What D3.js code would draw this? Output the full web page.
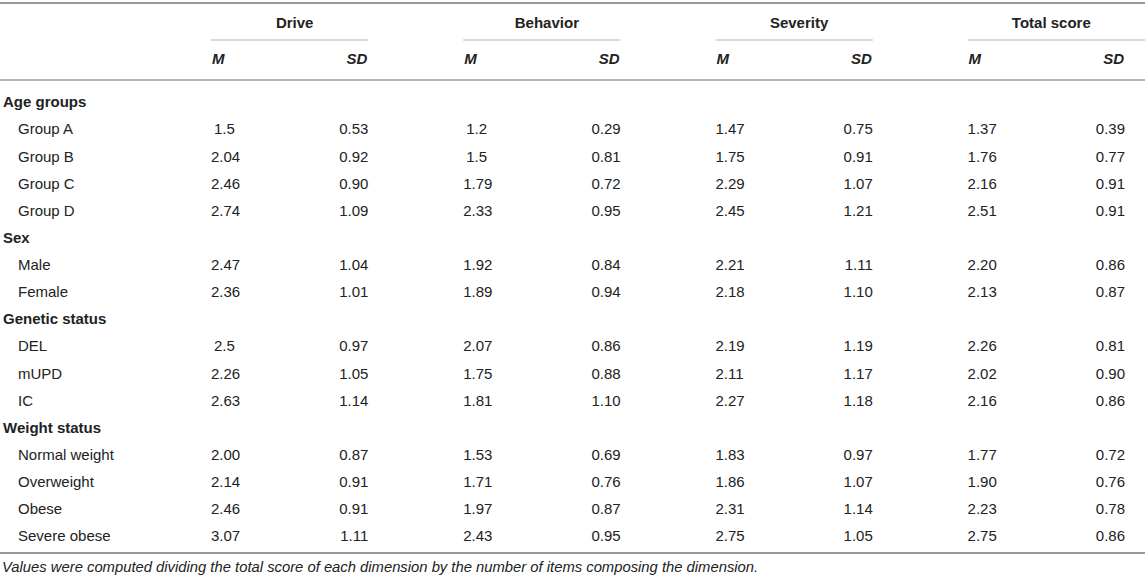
<!DOCTYPE html>
<html lang="en">
<head>
    <meta charset="UTF-8">
    <title>Scores by group</title>
    <script src="https://d3js.org/d3.v7.min.js"></script>
    <style>
        body { margin: 0; background: #fff; }
        svg { display: block; }
        text { font-family: "Liberation Sans", Arial, sans-serif; fill: #222; }
        .cell { font-size: 15px; }
        .group { font-size: 15px; font-weight: bold; }
        .dim { font-size: 15px; font-weight: bold; }
        .sub { font-size: 15px; font-weight: bold; font-style: italic; }
        .note { font-size: 14.8px; font-style: italic; }
    </style>
</head>
<body>
<svg></svg>
<script>
    const width = 1145;
    const height = 575;

    const dimensions = ["Drive", "Behavior", "Severity", "Total score"];
    const stats = ["M", "SD"];

    const groups = ["Age groups", "Sex", "Genetic status", "Weight status"];
    const rowLabels = [
        ["Group A", "Group B", "Group C", "Group D"],
        ["Male", "Female"],
        ["DEL", "mUPD", "IC"],
        ["Normal weight", "Overweight", "Obese", "Severe obese"]
    ];

    // each row: Drive M, Drive SD, Behavior M, Behavior SD, Severity M, Severity SD, Total M, Total SD
    const ageValues = [
        ["1.5", "0.53", "1.2", "0.29", "1.47", "0.75", "1.37", "0.39"],
        ["2.04", "0.92", "1.5", "0.81", "1.75", "0.91", "1.76", "0.77"],
        ["2.46", "0.90", "1.79", "0.72", "2.29", "1.07", "2.16", "0.91"],
        ["2.74", "1.09", "2.33", "0.95", "2.45", "1.21", "2.51", "0.91"]
    ];
    const sexValues = [
        ["2.47", "1.04", "1.92", "0.84", "2.21", "1.11", "2.20", "0.86"],
        ["2.36", "1.01", "1.89", "0.94", "2.18", "1.10", "2.13", "0.87"]
    ];
    const geneticValues = [
        ["2.5", "0.97", "2.07", "0.86", "2.19", "1.19", "2.26", "0.81"],
        ["2.26", "1.05", "1.75", "0.88", "2.11", "1.17", "2.02", "0.90"],
        ["2.63", "1.14", "1.81", "1.10", "2.27", "1.18", "2.16", "0.86"]
    ];
    const weightValues = [
        ["2.00", "0.87", "1.53", "0.69", "1.83", "0.97", "1.77", "0.72"],
        ["2.14", "0.91", "1.71", "0.76", "1.86", "1.07", "1.90", "0.76"],
        ["2.46", "0.91", "1.97", "0.87", "2.31", "1.14", "2.23", "0.78"],
        ["3.07", "1.11", "2.43", "0.95", "2.75", "1.05", "2.75", "0.86"]
    ];
    const groupValues = [ageValues, sexValues, geneticValues, weightValues];

    const note = "Values were computed dividing the total score of each dimension by the number of items composing the dimension.";

    // flatten body rows
    const rows = [];
    groups.forEach((g, gi) => {
        rows.push({ label: g, heading: true, values: [] });
        rowLabels[gi].forEach((lab, ri) => {
            rows.push({ label: lab, heading: false, values: groupValues[gi][ri] });
        });
    });

    const svg = d3.select("svg")
        .attr("width", width)
        .attr("height", height);

    const x = d3.scaleBand()
        .domain(dimensions)
        .range([211, 1125])
        .paddingInner(0.376)
        .paddingOuter(0);

    const y = d3.scalePoint()
        .domain(d3.range(rows.length))
        .range([102, 536]);

    const rule = (y0, x0, x1, color, w) => svg.append("line")
        .attr("x1", x0).attr("x2", x1)
        .attr("y1", y0).attr("y2", y0)
        .attr("stroke", color)
        .attr("stroke-width", w);

    rule(3, 0, width, "#9a9a9a", 2);
    rule(80, 0, width, "#b4b4b4", 2);
    rule(553, 0, width, "#9a9a9a", 2);

    // dimension headers
    const dimG = svg.selectAll(".dimHead")
        .data(dimensions)
        .enter()
        .append("g")
        .attr("class", "dimHead");

    dimG.append("text")
        .attr("class", "dim")
        .attr("x", d => x(d) + x.bandwidth() / 2 + 5)
        .attr("y", 23)
        .attr("dy", "0.35em")
        .attr("text-anchor", "middle")
        .text(d => d);

    dimG.append("line")
        .attr("x1", d => x(d))
        .attr("x2", (d, i) => i === dimensions.length - 1 ? width : x(d) + x.bandwidth())
        .attr("y1", 40).attr("y2", 40)
        .attr("stroke", "#b4b4b4")
        .attr("stroke-width", 1.2);

    dimG.selectAll(".sub")
        .data(d => stats.map(s => ({ dim: d, stat: s })))
        .enter()
        .append("text")
        .attr("class", "sub")
        .attr("x", d => d.stat === "M" ? x(d.dim) + 1 : x(d.dim) + x.bandwidth() - 1)
        .attr("y", 59)
        .attr("dy", "0.35em")
        .attr("text-anchor", d => d.stat === "M" ? "start" : "end")
        .text(d => d.stat);

    // body rows
    const rowG = svg.selectAll(".row")
        .data(rows)
        .enter()
        .append("g")
        .attr("class", "row")
        .attr("transform", (d, i) => `translate(0, ${y(i)})`);

    rowG.append("text")
        .attr("class", d => d.heading ? "group" : "cell")
        .attr("x", d => d.heading ? 3 : 18)
        .attr("dy", "0.35em")
        .text(d => d.label);

    rowG.selectAll(".val")
        .data(d => d.values.map((v, k) => ({ v, dim: dimensions[Math.floor(k / 2)], stat: stats[k % 2] })))
        .enter()
        .append("text")
        .attr("class", "cell")
        .attr("x", d => d.stat === "M"
            ? x(d.dim) + (d.v.length < 4 ? 3 : 0)
            : x(d.dim) + x.bandwidth())
        .attr("dy", "0.35em")
        .attr("text-anchor", d => d.stat === "M" ? "start" : "end")
        .text(d => d.v);

    svg.append("text")
        .attr("class", "note")
        .attr("x", 2)
        .attr("y", 567)
        .attr("dy", "0.35em")
        .text(note);
</script>
</body>
</html>
